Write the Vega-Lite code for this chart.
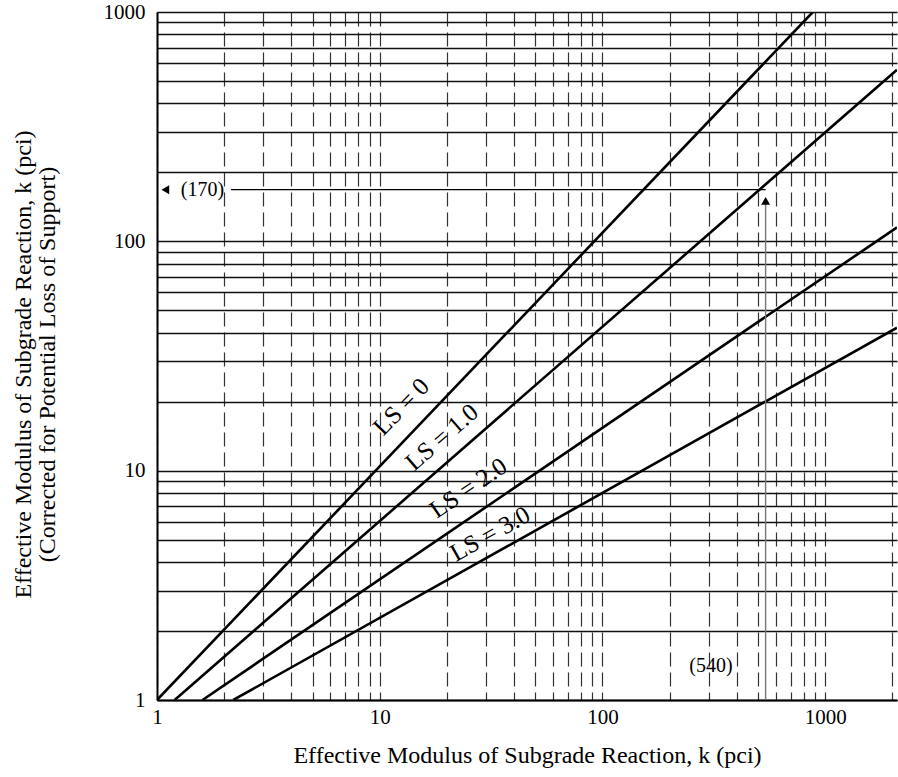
{
  "$schema": "https://vega.github.io/schema/vega-lite/v6.json",
  "width": 740,
  "height": 688,
  "autosize": {"type": "none"},
  "padding": {"left": 157, "top": 12, "right": 1, "bottom": 77},
  "background": "white",
  "config": {
    "view": {"stroke": null},
    "font": "Liberation Serif",
    "axis": {
      "labelFont": "Liberation Serif",
      "titleFont": "Liberation Serif",
      "labelColor": "black",
      "titleColor": "black",
      "titleFontWeight": "normal",
      "labelFontSize": 21,
      "titleFontSize": 24,
      "domainColor": "black",
      "domainWidth": 2,
      "ticks": false
    }
  },
  "encoding": {
    "x": {
      "field": "k",
      "type": "quantitative",
      "scale": {"type": "log", "domain": [1, 2100], "nice": false},
      "axis": {
        "title": "Effective Modulus of Subgrade Reaction, k (pci)",
        "values": [1,2,3,4,5,6,7,8,9,10,20,30,40,50,60,70,80,90,100,200,300,400,500,600,700,800,900,1000,2000],
        "labelExpr": "datum.value == 1 || datum.value == 10 || datum.value == 100 || datum.value == 1000 ? format(datum.value, 'd') : ''",
        "labelPadding": 6,
        "labelFlush": false,
        "titlePadding": 16,
        "grid": true,
        "gridColor": "#333333",
        "gridWidth": 1.2,
        "gridDash": [14, 6]
      }
    },
    "y": {
      "field": "kc",
      "type": "quantitative",
      "scale": {"type": "log", "domain": [1, 1000], "nice": false},
      "axis": {
        "title": ["Effective Modulus of Subgrade Reaction, k (pci)", "(Corrected for Potential Loss of Support)"],
        "values": [1,2,3,4,5,6,7,8,9,10,20,30,40,50,60,70,80,90,100,200,300,400,500,600,700,800,900,1000],
        "labelExpr": "datum.value == 1 || datum.value == 10 || datum.value == 100 || datum.value == 1000 ? format(datum.value, 'd') : ''",
        "labelPadding": 12,
        "labelFlush": false,
        "titlePadding": 44,
        "titleLineHeight": 24,
        "titleY": 352,
        "grid": true,
        "gridColor": "#111111",
        "gridWidth": 1.4
      }
    }
  },
  "layer": [
    {
      "data": {"values": [
        {"ls": "0", "k": 1, "kc": 1},
        {"ls": "0", "k": 880, "kc": 1000},
        {"ls": "1.0", "k": 1.2, "kc": 1},
        {"ls": "1.0", "k": 2100, "kc": 560},
        {"ls": "2.0", "k": 1.6, "kc": 1},
        {"ls": "2.0", "k": 2100, "kc": 115},
        {"ls": "3.0", "k": 2.2, "kc": 1},
        {"ls": "3.0", "k": 2100, "kc": 42}
      ]},
      "mark": {"type": "line", "color": "black", "strokeWidth": 2.6, "clip": true},
      "encoding": {"detail": {"field": "ls"}}
    },
    {
      "data": {"values": [{"k": 540, "kc": 1}, {"k": 540, "kc": 150}]},
      "mark": {"type": "line", "color": "#777777", "strokeWidth": 1.4},
      "encoding": {}
    },
    {
      "data": {"values": [{"k": 540, "kc": 168}, {"k": 2.15, "kc": 168}]},
      "mark": {"type": "line", "color": "black", "strokeWidth": 1.4},
      "encoding": {}
    },
    {
      "data": {"values": [{"k": 540, "kc": 150}]},
      "mark": {"type": "point", "shape": "triangle-up", "filled": true, "color": "black", "size": 80, "opacity": 1}
    },
    {
      "data": {"values": [{"k": 1.09, "kc": 168}]},
      "mark": {"type": "point", "shape": "triangle-left", "filled": true, "color": "black", "size": 80, "opacity": 1}
    },
    {
      "data": {"values": [{"label": "(170)", "k": 1.6, "kc": 168}]},
      "mark": {"type": "text", "fontSize": 20, "color": "black", "align": "center", "baseline": "middle", "font": "Liberation Serif"},
      "encoding": {"text": {"field": "label"}}
    },
    {
      "data": {"values": [{"label": "(540)", "k": 307, "kc": 1.4}]},
      "mark": {"type": "text", "fontSize": 20, "color": "black", "align": "center", "baseline": "middle", "font": "Liberation Serif"},
      "encoding": {"text": {"field": "label"}}
    },
    {
      "data": {"values": [{"label": "LS = 0", "k": 12.5, "kc": 19}]},
      "mark": {"type": "text", "fontSize": 25, "color": "black", "align": "center", "baseline": "middle", "angle": -46, "font": "Liberation Serif"},
      "encoding": {"text": {"field": "label"}}
    },
    {
      "data": {"values": [{"label": "LS = 1.0", "k": 19, "kc": 14}]},
      "mark": {"type": "text", "fontSize": 25, "color": "black", "align": "center", "baseline": "middle", "angle": -41, "font": "Liberation Serif"},
      "encoding": {"text": {"field": "label"}}
    },
    {
      "data": {"values": [{"label": "LS = 2.0", "k": 25, "kc": 8.4}]},
      "mark": {"type": "text", "fontSize": 25, "color": "black", "align": "center", "baseline": "middle", "angle": -34, "font": "Liberation Serif"},
      "encoding": {"text": {"field": "label"}}
    },
    {
      "data": {"values": [{"label": "LS = 3.0", "k": 31.3, "kc": 5.3}]},
      "mark": {"type": "text", "fontSize": 25, "color": "black", "align": "center", "baseline": "middle", "angle": -29, "font": "Liberation Serif"},
      "encoding": {"text": {"field": "label"}}
    }
  ]
}
